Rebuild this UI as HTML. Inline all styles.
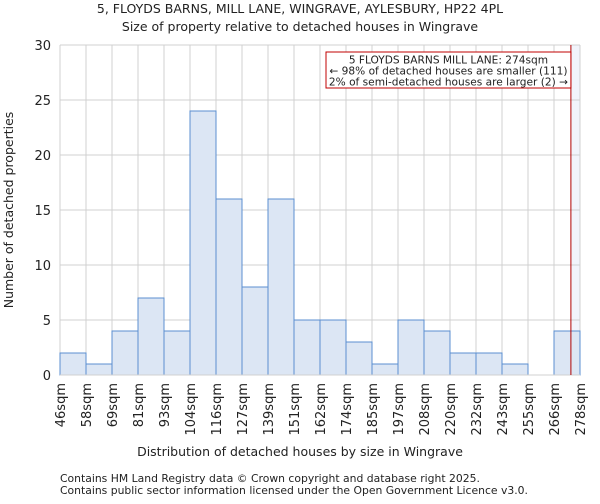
<!DOCTYPE html>
<html><head><meta charset="utf-8"><style>
body{margin:0;background:#fff;font-family:"DejaVu Sans","Liberation Sans",sans-serif;}
svg text{font-family:"DejaVu Sans","Liberation Sans",sans-serif;fill:#222;}
</style></head><body>
<svg id="c" width="600" height="500" xmlns="http://www.w3.org/2000/svg">
<text x="300" y="13" font-size="12.5" text-anchor="middle">5, FLOYDS BARNS, MILL LANE, WINGRAVE, AYLESBURY, HP22 4PL</text>
<text x="300" y="31" font-size="12.5" text-anchor="middle">Size of property relative to detached houses in Wingrave</text>
<g id="grid"></g><g id="bars"></g><g id="axes"></g>
<text x="300" y="456" font-size="12.5" text-anchor="middle">Distribution of detached houses by size in Wingrave</text>
<text transform="translate(13,210) rotate(-90)" font-size="12.5" text-anchor="middle">Number of detached properties</text>
<text x="60" y="482" font-size="10.8">Contains HM Land Registry data © Crown copyright and database right 2025.</text>
<text x="60" y="494" font-size="10.8">Contains public sector information licensed under the Open Government Licence v3.0.</text>
</svg>
<script>
const categories=["46sqm","58sqm","69sqm","81sqm","93sqm","104sqm","116sqm","127sqm","139sqm","151sqm","162sqm","174sqm","185sqm","197sqm","208sqm","220sqm","232sqm","243sqm","255sqm","266sqm","278sqm"];
const counts=[2,1,4,7,4,24,16,8,16,5,5,3,1,5,4,2,2,1,0,4];
const yTicks=[0,5,10,15,20,25,30];
const markerBin=19.65;
const annotationLines=["5 FLOYDS BARNS MILL LANE: 274sqm","\u2190 98% of detached houses are smaller (111)","2% of semi-detached houses are larger (2) \u2192"];
const NS="http://www.w3.org/2000/svg";
const L=60,R=580,T=45,B=375,yMax=30;
const nb=counts.length;
const x=i=>L+(R-L)*i/nb;
const y=v=>B-(B-T)*v/yMax;
function mk(p,tag,a){const e=document.createElementNS(NS,tag);for(const k in a)e.setAttribute(k,a[k]);p.appendChild(e);return e;}
const g=document.getElementById('grid'),bg=document.getElementById('bars'),ax=document.getElementById('axes');
const hl=mk(g,'rect',{x:x(markerBin),y:T,width:R-x(markerBin),height:B-T,fill:'#f1f4fb'});


yTicks.forEach(t=>{
 const l=mk(g,'line',{x1:L,x2:R,y1:y(t),y2:y(t),stroke:'#d0d0d0','stroke-width':1});
 
 
 const tx=mk(ax,'text',{x:L-9,y:y(t)+5,'font-size':13,'text-anchor':'end'});tx.textContent=t;
 
 
});
categories.forEach((c,i)=>{
 const l=mk(g,'line',{x1:x(i),x2:x(i),y1:T,y2:B,stroke:'#d0d0d0','stroke-width':1});
 
 
 const tx=mk(ax,'text',{transform:`translate(${x(i)+5},${B+8}) rotate(-90)`,'font-size':13,'text-anchor':'end'});tx.textContent=c;
 
 
});
counts.forEach((v,i)=>{
 if(v<=0)return;
 const r=mk(bg,'rect',{x:x(i),y:y(v),width:x(1)-x(0),height:B-y(v),fill:'#dce6f4',stroke:'#5b8fd0','stroke-width':1});
 
 
});
const bl=mk(ax,'line',{x1:L,x2:R,y1:B,y2:B,stroke:'#d0d0d0','stroke-width':1});


const mx=x(markerBin);
const ml=mk(ax,'line',{x1:mx,x2:mx,y1:T,y2:B,stroke:'#b00000','stroke-width':1});


const box=mk(ax,'rect',{x:326,y:52,width:mx-326,height:36,fill:'#fff',stroke:'#c00000','stroke-width':1});


annotationLines.forEach((s,i)=>{
 const tx=mk(ax,'text',{x:(326+mx)/2,y:63.5+i*11,'font-size':10.6,'text-anchor':'middle'});tx.textContent=s;
 
 
});
</script>
</body></html>
